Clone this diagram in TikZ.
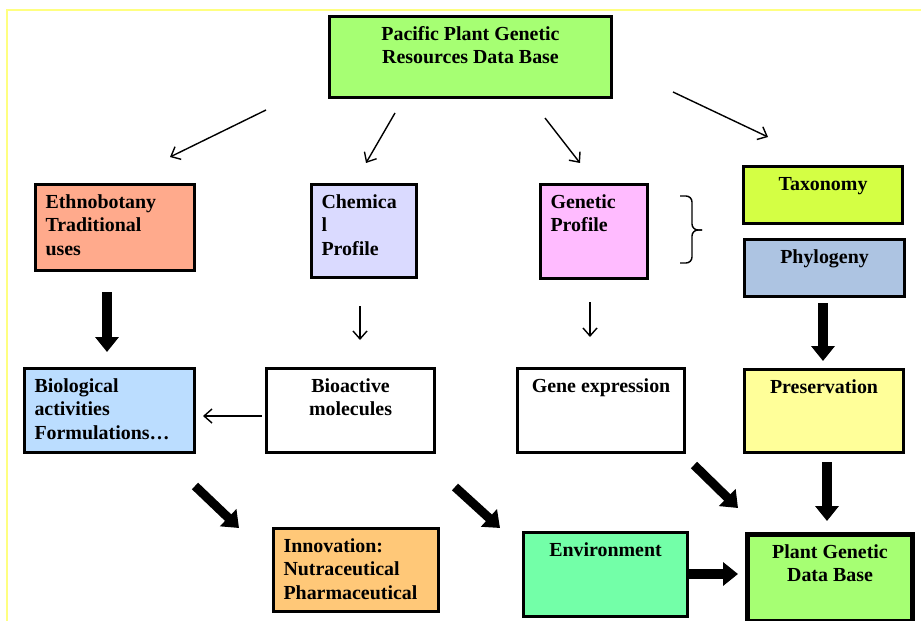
\documentclass[tikz,border=0pt]{standalone}
\usepackage{fontspec}
\setmainfont{Liberation Serif}
\usetikzlibrary{arrows.meta}

\newdimen\pxu \pxu=0.03cm

\definecolor{pgrgreen}{RGB}{166,255,115}
\definecolor{ethnofill}{RGB}{255,170,140}
\definecolor{chemfill}{RGB}{218,218,255}
\definecolor{genfill}{RGB}{255,187,255}
\definecolor{taxfill}{RGB}{212,255,68}
\definecolor{phyfill}{RGB}{173,196,226}
\definecolor{biofill}{RGB}{187,221,255}
\definecolor{presfill}{RGB}{255,255,153}
\definecolor{innovfill}{RGB}{255,200,120}
\definecolor{envfill}{RGB}{115,255,168}
\definecolor{framey}{RGB}{255,255,128}

% box text: outer width, outer height, alignment, text
\newcommand{\cellbox}[4]{\parbox[c][\dimexpr#2\pxu-12\pxu\relax][t]{\dimexpr#1\pxu-20\pxu\relax}{#3\rule{0pt}{18\pxu}#4}}

\begin{document}
\begin{tikzpicture}[x=0.03cm,y=-0.03cm,
  block/.style={draw,line width=2.6pt,anchor=north west,inner xsep=10\pxu,inner ysep=6\pxu,
    font=\bfseries\fontsize{17}{20}\selectfont},
  arr/.style={-{Straight Barb[length=6.8pt,width=12pt]},line width=1.2pt},
  bigarr/.style={-{Triangle[length=12.8pt,width=19.6pt]},line width=7.7pt}]

\useasboundingbox (0,0) rectangle (921,621);
\draw[framey,line width=1.3pt] (7,621) -- (7,10) -- (921,10);

\node[block,fill=pgrgreen]  (pgr)   at (328,15)  {\cellbox{282}{81}{\centering}{Pacific Plant Genetic\\Resources Data Base}};

\node[block,fill=ethnofill] (ethno) at (34,183)  {\cellbox{159}{86}{\raggedright}{Ethnobotany\\Traditional\\uses}};
	\node[block,fill=chemfill]  (chem)  at (310,183) {\cellbox{105}{93}{\raggedright}{Chemica\\l\\Profile}};
\node[block,fill=genfill]   (gen)   at (539,183) {\cellbox{107}{94}{\raggedright}{Genetic\\Profile}};
\node[block,fill=taxfill]   (tax)   at (742,165) {\cellbox{159}{57}{\centering}{Taxonomy}};
	\node[block,fill=phyfill]   (phy)   at (743,238) {\cellbox{160}{57}{\centering}{Phylogeny}};

\node[block,fill=biofill]   (bio)   at (23,367)  {\cellbox{170}{84}{\raggedright}{Biological\\activities\\Formulations\dots}};
\node[block,fill=white]     (bact)  at (265,367) {\cellbox{168}{84}{\centering}{Bioactive\\molecules}};
	\node[block,fill=white]     (gexp)  at (516,367) {\cellbox{167}{84}{\centering}{Gene expression}};
\node[block,fill=presfill]  (pres)  at (743,368) {\cellbox{159}{83}{\centering}{Preservation}};

\node[block,fill=innovfill] (innov) at (272,527) {\cellbox{165}{83}{\raggedright}{Innovation:\\Nutraceutical\\Pharmaceutical}};
\node[block,fill=envfill]   (env)   at (522,531) {\cellbox{164}{84}{\centering}{Environment}};
	\node[block,fill=pgrgreen,line width=4.3pt] (pgdb) at (745,532) {\cellbox{165}{87}{\centering}{Plant Genetic\\Data Base}};

% free arrow ends
\coordinate (a1s) at (266,110); \coordinate (a1e) at (170,157);
\coordinate (a2s) at (395,113); \coordinate (a2e) at (366,163);
\coordinate (a3s) at (545,118); \coordinate (a3e) at (580,163);
\coordinate (a4s) at (673,92);  \coordinate (a4e) at (768,137);
\coordinate (chs) at (360,306); \coordinate (che) at (360,340);
\coordinate (gns) at (590,302); \coordinate (gne) at (590,337);
\coordinate (bas) at (262,416); \coordinate (bae) at (203,416);

\coordinate (ets) at (107,292); \coordinate (ete) at (107,352);
\coordinate (phs) at (823,303); \coordinate (phe) at (823,361);
\coordinate (prs) at (827,462); \coordinate (pre) at (827,521);
\coordinate (d1s) at (195,486); \coordinate (d1e) at (239,528);
\coordinate (d2s) at (455,487); \coordinate (d2e) at (500,528);
\coordinate (d3s) at (694,465); \coordinate (d3e) at (738,508);
\coordinate (evs) at (689,574); \coordinate (eve) at (738,574);

\draw[arr] (a1s) -- (a1e);
\draw[arr] (a2s) -- (a2e);
\draw[arr] (a3s) -- (a3e);
\draw[arr] (a4s) -- (a4e);
	\draw[arr] (chs) -- (che);
\draw[arr] (gns) -- (gne);
\draw[arr] (bas) -- (bae);

\draw[bigarr] (ets) -- (ete);
\draw[bigarr] (phs) -- (phe);
	\draw[bigarr] (prs) -- (pre);
\draw[bigarr] (d1s) -- (d1e);
\draw[bigarr] (d2s) -- (d2e);
\draw[bigarr] (d3s) -- (d3e);
\draw[bigarr] (evs) -- (eve);

% brace between profile and taxonomy
\coordinate (brt) at (680,196); \coordinate (brb) at (680,263); \coordinate (brm) at (702,230);
\draw[line width=1.2pt,rounded corners=6\pxu] (brt) -- (692,196) -- (692,230) -- (brm);
\draw[line width=1.2pt,rounded corners=6\pxu] (brb) -- (692,263) -- (692,230) -- (brm);

\end{tikzpicture}
\end{document}
